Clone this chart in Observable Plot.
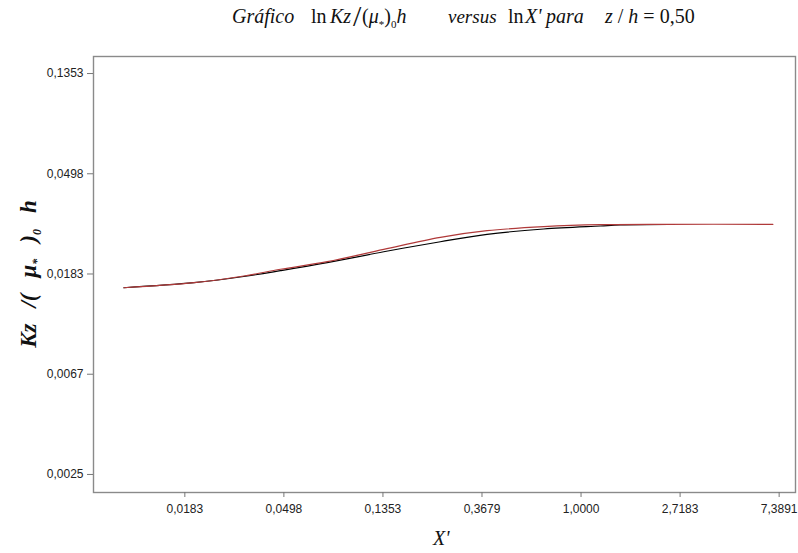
<!DOCTYPE html>
<html>
<head>
<meta charset="utf-8">
<script src="https://cdn.jsdelivr.net/npm/d3@7"></script>
<script src="https://cdn.jsdelivr.net/npm/@observablehq/plot@0.6"></script>
<style>
  html, body { margin: 0; padding: 0; background: #fff; }
  #wrap { position: relative; width: 798px; height: 553px; overflow: hidden; }
  .serif { font-family: "Liberation Serif", "DejaVu Serif", serif; color: #111; }
  .t { position: absolute; top: 5px; font-size: 20px; white-space: nowrap; }
  .t sub { font-size: 11px; vertical-align: -5px; }
  .big { font-size: 30px; line-height: 20px; }
  #ylab { position: absolute; left: 30px; top: 274px; transform: translate(-50%, -50%) rotate(-90deg);
          font-size: 23px; font-weight: bold; font-style: italic; white-space: nowrap; }
  #ylab sub { font-size: 12px; vertical-align: -5px; }
  #ylab span { margin-left: 16px; }
  #xlab { position: absolute; left: 433px; top: 527px; font-size: 20px; font-style: italic; white-space: nowrap; }
</style>
</head>
<body>
<div id="wrap">
  <div id="chart"></div>
  <div class="t serif" style="left:232px"><i>Gráfico</i></div>
  <div class="t serif" style="left:311px">ln</div>
  <div class="t serif" style="left:330px"><i>Kz</i></div>
  <div class="t serif big" style="left:353px; top:6px">/</div>
  <div class="t serif" style="left:362px">(<i>μ</i><sub>*</sub>)<sub>0</sub><i>h</i></div>
  <div class="t serif" style="left:448px; font-size:19px; top:6px"><i>versus</i></div>
  <div class="t serif" style="left:508px">ln</div>
  <div class="t serif" style="left:525px"><i>X'</i></div>
  <div class="t serif" style="left:546px"><i>para</i></div>
  <div class="t serif" style="left:605px"><i>z</i>&nbsp;/&nbsp;<i>h</i>&nbsp;=&nbsp;0,50</div>
  <div id="ylab" class="serif">Kz<span>/(</span><span>μ<sub>*</sub></span><span>)<sub>0</sub></span><span>h</span></div>
  <div id="xlab" class="serif">X'</div>
</div>
<script>
// Tick positions: powers of e on both axes
const xTicks = [Math.exp(-4), Math.exp(-3), Math.exp(-2), Math.exp(-1), 1, Math.exp(1), Math.exp(2)];
const yTicks = [Math.exp(-6), Math.exp(-5), Math.exp(-4), Math.exp(-3), Math.exp(-2)];

// Black series: X' and Kz/(mu*)0 h
const xBlack = [0.0099, 0.0201, 0.0332, 0.0481, 0.0771, 0.1364, 0.2417, 0.3871, 0.6859, 1.2153, 1.4874, 2.4133];
const kzBlack = [0.01597, 0.01679, 0.01786, 0.01893, 0.02050, 0.02287, 0.02527, 0.02721, 0.02869, 0.02956, 0.02986, 0.03001];

// Red series
const xRed = [0.0099, 0.0201, 0.0332, 0.0481, 0.0771, 0.1364, 0.2417, 0.3871, 0.6859, 1.2153, 2.4133, 6.938];
const kzRed = [0.01597, 0.01679, 0.01795, 0.01920, 0.02071, 0.02342, 0.02640, 0.02821, 0.02936, 0.02995, 0.03007, 0.03007];

const black = xBlack.map((x, i) => ({x, y: kzBlack[i]}));
const red = xRed.map((x, i) => ({x, y: kzRed[i]}));

const fmt = d => d.toFixed(4).replace(".", ",");

const chart = Plot.plot({
  width: 798,
  height: 553,
  marginTop: 56,
  marginLeft: 93,
  marginRight: 3,
  marginBottom: 61,
  style: { fontFamily: "'Liberation Sans', Arial, sans-serif", fontSize: "12px", color: "#222", background: "#fff" },
  x: { type: "log", domain: [Math.exp(-4.922), Math.exp(2.165)] },
  y: { type: "log", domain: [Math.exp(-6.18), Math.exp(-1.83)] },
  marks: [
    Plot.frame({ stroke: "#8a8a8a", strokeWidth: 1.4 }),
    // tick marks
    Plot.axisX({ ticks: xTicks, tickFormat: () => "", tickSize: 5, label: null, stroke: "#777" }),
    Plot.axisY({ ticks: yTicks, tickFormat: () => "", tickSize: 6, label: null, stroke: "#777" }),
    // tick labels
    Plot.text(xTicks, { x: d => d, frameAnchor: "bottom", dy: 20, text: fmt, fill: "#222" }),
    Plot.text(yTicks, { y: d => d, frameAnchor: "left", dx: -10, textAnchor: "end", text: fmt, fill: "#222" }),
    Plot.line(black, { x: "x", y: "y", stroke: "#000", strokeWidth: 1.2, curve: "catmull-rom" }),
    Plot.line(red, { x: "x", y: "y", stroke: "#b03a3a", strokeWidth: 1.2, curve: "catmull-rom" })
  ]
});
document.getElementById("chart").appendChild(chart);
</script>
</body>
</html>
